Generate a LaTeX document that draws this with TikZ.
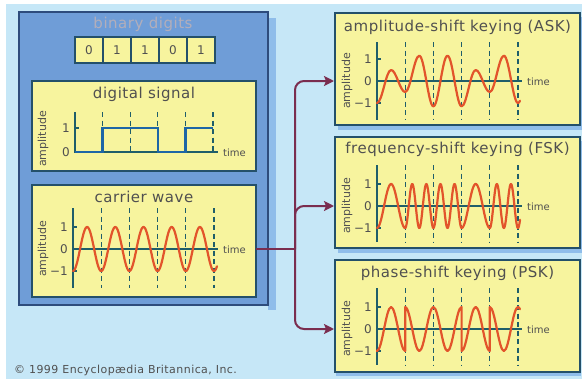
\documentclass[tikz,border=0pt]{standalone}
\usepackage{fontspec}
\setmainfont{DejaVu Sans}
\newfontfamily\widefont[LetterSpace=3.5]{DejaVu Sans}
\newfontfamily\creditfont[LetterSpace=4]{DejaVu Sans}
\usetikzlibrary{arrows.meta}
\definecolor{bgblue}{HTML}{C6E7F7}
\definecolor{panelblue}{HTML}{6F9DD7}
\definecolor{paneledge}{HTML}{2E4C7C}
\definecolor{boxyellow}{HTML}{F7F49E}
\definecolor{boxedge}{HTML}{24506A}
\definecolor{axiscol}{HTML}{1F5E6A}
\definecolor{wavecol}{HTML}{E2542B}
\definecolor{sigcol}{HTML}{1E66A6}
\definecolor{conncol}{HTML}{7A2D4F}
\definecolor{txtcol}{HTML}{505050}
\definecolor{lbltxt}{HTML}{B2AEBB}
\definecolor{shadowblue}{HTML}{8FBDEA}
\newcommand{\waveaxes}[3]{%
  \foreach \k in {1,...,5} \draw[gdash] ({28.2*\k},#1) -- ({28.2*\k},#2);
  \draw[axis] (0,#1) -- (0,#2);
  \draw[axis] (0,0) -- (145,0);
  \draw[axis] (0,-22) -- (4,-22);
  \draw[axis] (0,22) -- (4,22);
  \node[lbl,anchor=east] (#3one) at (-5,-22) {1};
  \node[lbl,anchor=east] (#3zero) at (-5,0) {0};
  \node[lbl,anchor=east] (#3mone) at (-5,22) {−1};
  \node[amp,rotate=90] (#3amp) at (-30,0) {amplitude};
  \node[small,anchor=west] (#3time) at (150,1) {time};
}
\begin{document}
\begin{tikzpicture}[x=1pt,y=-1pt,
  panel/.style={draw=paneledge,line width=1.5pt,fill=panelblue,inner sep=0pt,outer sep=0pt},
  ybox/.style={draw=boxedge,line width=1.5pt,fill=boxyellow,inner sep=0pt,outer sep=0pt},
  digitbox/.style={ybox,minimum width=28pt,minimum height=26pt,text=txtcol,font=\fontsize{12}{12}\selectfont},
  axis/.style={draw=axiscol,line width=1.4pt},
  gdash/.style={draw=axiscol,line width=1.2pt,dash pattern=on 5pt off 3.5pt},
  wave/.style={draw=wavecol,line width=2.2pt,line join=round,line cap=round},
  sig/.style={draw=sigcol,line width=2.4pt},
  conn/.style={draw=conncol,line width=2pt,rounded corners=9pt,-{Stealth[length=10pt,width=10pt,inset=2pt]},shorten >=1pt},
  connline/.style={draw=conncol,line width=2pt},
  title/.style={text=txtcol,font=\widefont\fontsize{15}{15}\selectfont,inner sep=0pt},
  lbl/.style={text=txtcol,font=\fontsize{12}{12}\selectfont,inner sep=0pt},
  small/.style={text=txtcol,font=\fontsize{10}{10}\selectfont,inner sep=0pt},
  amp/.style={text=txtcol,font=\fontsize{11}{11}\selectfont,inner sep=0pt},
  credit/.style={text=txtcol,font=\creditfont\fontsize{11}{11}\selectfont,inner sep=0pt}]
\path[use as bounding box,fill=white] (0,0) rectangle (582,381);
\fill[bgblue] (6,4) rectangle (582,379);
% shadows
\fill[shadowblue] (268,18) rectangle (276,310);
\fill[shadowblue] (338,17) rectangle (582,130);
\fill[shadowblue] (338,141) rectangle (582,253);
\fill[shadowblue] (336,264) rectangle (581,376);
% left panel
\node[panel,minimum width=249pt,minimum height=293pt] (leftpanel) at (143.5,158.5) {};
\node[title,text=lbltxt] (bdtitle) at (143,24) {binary digits};
\foreach \i/\d in {1/0,2/1,3/1,4/0,5/1}
  \node[digitbox] (d\i) at ({61+28*\i},50) {\d};
% digital signal
\node[ybox,minimum width=224pt,minimum height=90pt] (digital) at (144,126) {};
\node[title] (digitaltitle) at ([yshift=-13pt]digital.north) {digital signal};
\coordinate (do) at (75,152);
\begin{scope}[shift={(do)}]
  \foreach \k in {1,...,5} \draw[gdash] ({27.6*\k},-40) -- ({27.6*\k},0);
  \draw[axis] (0,-40) -- (0,0) -- (143,0);
  \draw[axis] (0,-24) -- (4,-24);
  \draw[sig] (0,0) -- (27.6,0) -- (27.6,-24) -- (82.8,-24) -- (82.8,0) -- (110.4,0) -- (110.4,-24) -- (138,-24);
  \node[lbl,anchor=east] (dlone) at (-5,-24) {1};
  \node[lbl,anchor=east] (dlzero) at (-5,0) {0};
  \node[amp,rotate=90] (damp) at (-32,-13) {amplitude};
  \node[small,anchor=west] (dtime) at (148,1) {time};
\end{scope}
% carrier wave
\node[ybox,minimum width=224pt,minimum height=112pt] (carrier) at (144,241) {};
\node[title] (carriertitle) at ([yshift=-12pt]carrier.north) {carrier wave};
\coordinate (co) at (73,249);
\begin{scope}[shift={(co)}]
  \waveaxes{-41}{39}{c}
  \begin{scope}[yscale=-22]
    \draw[wave] plot[domain=0:144,samples=220,smooth] (\x,{-cos(\x*12.766)});
  \end{scope}
\end{scope}
% ASK
\node[ybox,minimum width=245pt,minimum height=112pt] (ask) at (457.5,69) {};
\node[title] (asktitle) at ([yshift=-14pt]ask.north) {amplitude-shift keying (ASK)};
\coordinate (ao) at (377,81);
\begin{scope}[shift={(ao)}]
  \waveaxes{-39}{39}{a}
  \begin{scope}[yscale=-22]
    \draw[wave] (0,-1) cos (7.05,-0.25) sin (14.1,0.5) cos (21.15,0) sin (28.2,-0.5)
      cos (35.25,0.325) sin (42.3,1.15) cos (49.35,0) sin (56.4,-1.15)
      cos (63.45,0) sin (70.5,1.15) cos (77.55,0) sin (84.6,-1.15)
      cos (91.65,-0.325) sin (98.7,0.5) cos (105.75,0) sin (112.8,-0.5)
      cos (119.85,0.325) sin (126.9,1.15) cos (133.95,0.075) sin (141,-1)
      cos (143,-0.9);
  \end{scope}
\end{scope}
% FSK
\node[ybox,minimum width=245pt,minimum height=111pt] (fsk) at (457.5,192.5) {};
\node[title] (fsktitle) at ([yshift=-12pt]fsk.north) {frequency-shift keying (FSK)};
\coordinate (fo) at (377,206);
\begin{scope}[shift={(fo)}]
  \waveaxes{-41}{36}{f}
  \begin{scope}[yscale=-22]
    \draw[wave] plot[domain=0:28.2,samples=50,smooth] (\x,{-cos(\x*12.766)})
      -- plot[domain=28.2:84.6,samples=160,smooth] (\x,{-cos(\x*25.532)})
      -- plot[domain=84.6:112.8,samples=50,smooth] (\x,{-cos(\x*12.766)})
      -- plot[domain=112.8:143,samples=90,smooth] (\x,{-cos(\x*25.532)});
  \end{scope}
\end{scope}
% PSK
\node[ybox,minimum width=245pt,minimum height=112pt] (psk) at (457.5,316) {};
\node[title] (psktitle) at ([yshift=-13pt]psk.north) {phase-shift keying (PSK)};
\coordinate (po) at (377,329);
\begin{scope}[shift={(po)}]
  \waveaxes{-41}{36}{p}
  \begin{scope}[yscale=-22]
    \draw[wave] (0,-1) cos (7.05,0) sin (14.1,1) cos (21.15,0) sin (28.2,-1)
      -- (28.2,1) cos (35.25,0) sin (42.3,-1) cos (49.35,0) sin (56.4,1)
      cos (63.45,0) sin (70.5,-1) cos (77.55,0) sin (84.6,1)
      -- (84.6,-1) cos (91.65,0) sin (98.7,1) cos (105.75,0) sin (112.8,-1)
      -- (112.8,1) cos (119.85,0) sin (126.9,-1) cos (133.95,0) sin (141,1)
      cos (143,0.9);
  \end{scope}
\end{scope}
% connectors
\coordinate (split) at (295,249);
\draw[connline] (carrier.east |- co) -- (split);
\draw[conn] (split) |- (ask.west |- ao);
\draw[conn] (split) |- (fsk.west |- fo);
\draw[conn] (split) |- (psk.west |- po);
% credit
\node[credit,anchor=west] (credit) at (14,370) {© 1999 Encyclopædia Britannica, Inc.};
\end{tikzpicture}
\end{document}
